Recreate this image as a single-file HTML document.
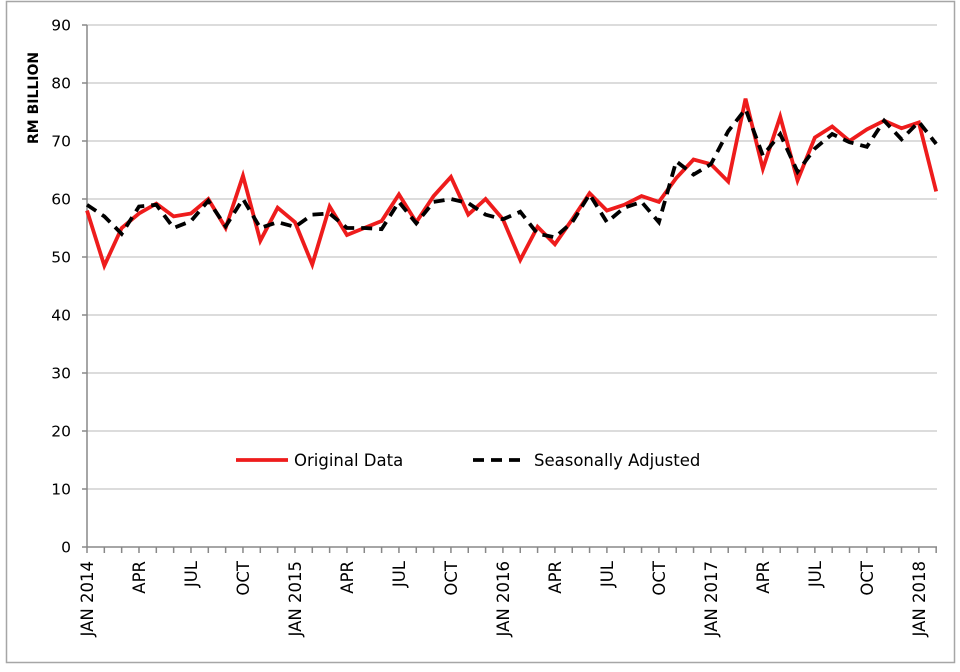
<!DOCTYPE html>
<html><head><meta charset="utf-8"><style>
body{margin:0;background:#fff}
svg text{font-family:"DejaVu Sans","Liberation Sans",sans-serif;}
</style></head><body>
<svg width="960" height="667" xmlns="http://www.w3.org/2000/svg">
<rect x="6.5" y="1.5" width="948" height="661" fill="#fff" stroke="#a6a6a6" stroke-width="1.5"/>
<g id="grid" stroke="#d0d0d0" stroke-width="1.5"></g>
<g id="ax"></g>
<polyline id="orig" fill="none" stroke="#ee1c1c" stroke-width="3.8" stroke-linejoin="miter"/>
<polyline id="sa" fill="none" stroke="#000" stroke-width="3.8" stroke-dasharray="11,7"/>
<text x="0" y="0" transform="translate(38,144) rotate(-90)" font-size="14" font-weight="bold" text-anchor="start">RM BILLION</text>
<line x1="236" y1="460" x2="288" y2="460" stroke="#ee1c1c" stroke-width="3.8"/>
<text x="294" y="466" font-size="16.5">Original Data</text>
<line x1="473" y1="460" x2="526" y2="460" stroke="#000" stroke-width="3.8" stroke-dasharray="11,7"/>
<text x="534" y="466" font-size="16.5">Seasonally Adjusted</text>
</svg>
<script>
const o=[58,48.5,55,57.5,59.2,57,57.5,60,55,64,52.8,58.5,56,48.7,58.7,53.8,55,56.2,60.8,56,60.5,63.8,57.3,60,56.5,49.5,55.2,52.2,56.5,61,58,59,60.5,59.5,63.6,66.8,66,63,77.3,65.2,74.2,63.2,70.6,72.5,70,72,73.5,72.2,73.2,61.3];
const s=[59,57,54,58.7,59,55,56.2,59.7,55.3,60,55,56,55.2,57.3,57.5,55,55,54.8,59.5,55.8,59.5,60,59.3,57.3,56.5,57.8,54,53.4,56,60.8,56,58.5,59.5,56,66.5,64.2,66,71.7,75.5,67.5,71.2,64.7,68.7,71.2,69.8,69,73.5,70.3,73.3,69.5];
const X=i=>87+i*17.33, Y=v=>547-v*5.8;
const ns="http://www.w3.org/2000/svg";
function el(p,t,a,txt){const e=document.createElementNS(ns,t);for(const k in a)e.setAttribute(k,a[k]);if(txt!==undefined)e.textContent=txt;p.appendChild(e);return e;}
const g=document.getElementById('grid'),ax=document.getElementById('ax');
for(let v=10;v<=90;v+=10){el(g,'line',{x1:87,x2:937,y1:Y(v),y2:Y(v)});}
for(let v=0;v<=90;v+=10){el(ax,'text',{x:71,y:Y(v)+5.5,'font-size':15.5,'text-anchor':'end'},v);el(ax,'line',{x1:82,x2:87,y1:Y(v),y2:Y(v),stroke:'#888','stroke-width':1.5});}
el(ax,'line',{x1:87,x2:87,y1:Y(90),y2:547,stroke:'#888','stroke-width':1.5});
el(ax,'line',{x1:87,x2:937,y1:547,y2:547,stroke:'#888','stroke-width':1.5});
for(let i=0;i<50;i++)el(ax,'line',{x1:X(i),x2:X(i),y1:547,y2:553,stroke:'#888','stroke-width':1.5});
const m=['JAN','APR','JUL','OCT'];
for(let i=0;i<50;i+=3){let q=(i/3)%4;let t=m[q];if(q==0)t+=' '+(2014+i/12);
el(ax,'text',{transform:`translate(${X(i)+6},561) rotate(-90)`,'font-size':16.5,'text-anchor':'end'},t);}
document.getElementById('orig').setAttribute('points',o.map((v,i)=>X(i)+','+Y(v)).join(' '));
document.getElementById('sa').setAttribute('points',s.map((v,i)=>X(i)+','+Y(v)).join(' '));
</script>
</body></html>
